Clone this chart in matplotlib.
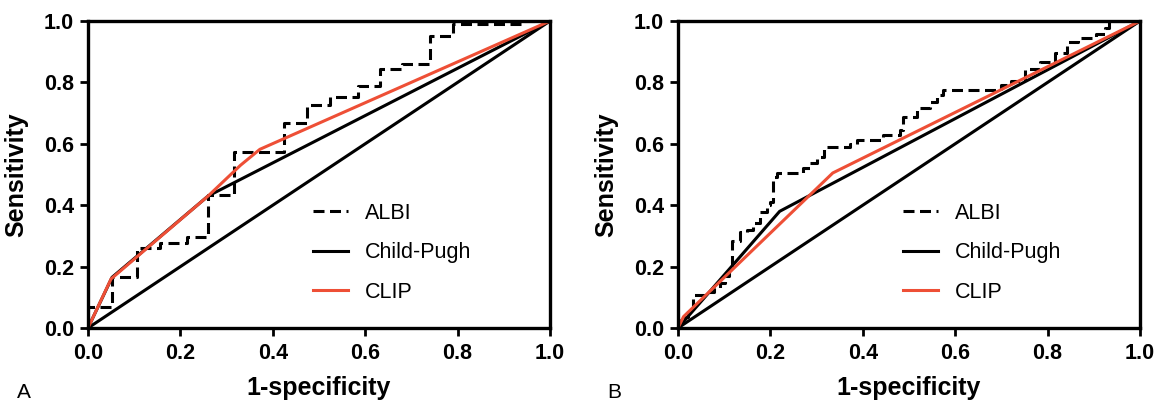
import matplotlib
matplotlib.use("Agg")
import matplotlib.pyplot as plt

plt.rcParams['font.family'] = ['Liberation Sans', 'DejaVu Sans']

# ROC curves (steps for ALBI)
albi_a_x = [0, 0, 0.052, 0.105, 0.156, 0.214, 0.26, 0.315, 0.424, 0.474, 0.524,
            0.584, 0.632, 0.68, 0.74, 0.79, 0.944, 1.0]
albi_a_y = [0, 0.07, 0.167, 0.262, 0.278, 0.298, 0.433, 0.573, 0.667, 0.726, 0.751,
            0.789, 0.843, 0.86, 0.951, 0.989, 1.0, 1.0]
child_a_x = [0, 0.052, 0.26, 1.0]
child_a_y = [0, 0.165, 0.43, 1.0]
clip_a_x = [0, 0.05, 0.26, 0.33, 0.372, 1.0]
clip_a_y = [0, 0.16, 0.43, 0.53, 0.582, 1.0]

albi_b_x = [0, 0.005, 0.022, 0.033, 0.062, 0.078, 0.091, 0.102, 0.110, 0.116, 0.134,
            0.149, 0.163, 0.177, 0.192, 0.199, 0.206, 0.214, 0.271, 0.286, 0.300,
            0.315, 0.372, 0.387, 0.444, 0.480, 0.488, 0.517, 0.545, 0.560, 0.574,
            0.700, 0.720, 0.752, 0.784, 0.817, 0.841, 0.865, 0.905, 0.925, 0.933, 1.0]
albi_b_y = [0, 0.035, 0.06, 0.107, 0.118, 0.13, 0.145, 0.168, 0.194, 0.282, 0.314,
            0.319, 0.341, 0.379, 0.40, 0.411, 0.493, 0.504, 0.52, 0.536, 0.558,
            0.59, 0.60, 0.612, 0.629, 0.645, 0.688, 0.716, 0.737, 0.759, 0.775,
            0.79, 0.805, 0.843, 0.865, 0.897, 0.93, 0.946, 0.957, 0.978, 1.0, 1.0]
child_b_x = [0, 0.22, 1.0]
child_b_y = [0, 0.38, 1.0]
clip_b_x = [0, 0.012, 0.335, 1.0]
clip_b_y = [0, 0.037, 0.505, 1.0]

ticks = [0.0, 0.2, 0.4, 0.6, 0.8, 1.0]
tick_labels = ["0.0", "0.2", "0.4", "0.6", "0.8", "1.0"]
red = "#ee4f36"

panels = [
    ("A", albi_a_x, albi_a_y, child_a_x, child_a_y, clip_a_x, clip_a_y, 88),
    ("B", albi_b_x, albi_b_y, child_b_x, child_b_y, clip_b_x, clip_b_y, 678),
]

W, H = 1161, 403
fig = plt.figure(figsize=(W / 100, H / 100), dpi=100)

for letter, ax_x, ax_y, cx, cy, rx, ry, left_px in panels:
    ax = fig.add_axes([left_px / W, (H - 328) / H, 462 / W, 307 / H])
    ax.plot([0, 1], [0, 1], color="black", lw=2.2, solid_capstyle="butt")
    ax.plot(ax_x, ax_y, drawstyle="steps-post", color="black", lw=2.2,
            linestyle=(0, (3.6, 1.8)), label="ALBI")
    ax.plot(cx, cy, color="black", lw=2.2, label="Child-Pugh")
    ax.plot(rx, ry, color=red, lw=2.2, label="CLIP")
    ax.set_xlim(0, 1)
    ax.set_ylim(0, 1)
    ax.set_xticks(ticks)
    ax.set_xticklabels(tick_labels)
    ax.set_yticks(ticks)
    ax.set_yticklabels(tick_labels)
    for s in ax.spines.values():
        s.set_linewidth(2.4)
    ax.tick_params(direction="out", length=6, width=2, labelsize=15.5, pad=4)
    ax.tick_params(axis="x", pad=5)
    for lab in ax.get_xticklabels() + ax.get_yticklabels():
        lab.set_fontweight("bold")
    ax.set_xlabel("1-specificity", fontsize=18, fontweight="bold")
    ax.set_ylabel("Sensitivity", fontsize=18, fontweight="bold")
    ax.xaxis.set_label_coords(0.5, -0.155)
    ax.yaxis.set_label_coords(-0.13, 0.5)
    ax.legend(loc="center left", bbox_to_anchor=(0.488, 0.245), frameon=False,
              fontsize=15.5, handlelength=1.6, handletextpad=0.8,
              labelspacing=0.85, borderpad=0, borderaxespad=0)
    fig.text((left_px - 64) / W, 1 - 393 / H, letter, fontsize=15,
             ha="center", va="center")

fig.savefig("out.png", dpi=100)
